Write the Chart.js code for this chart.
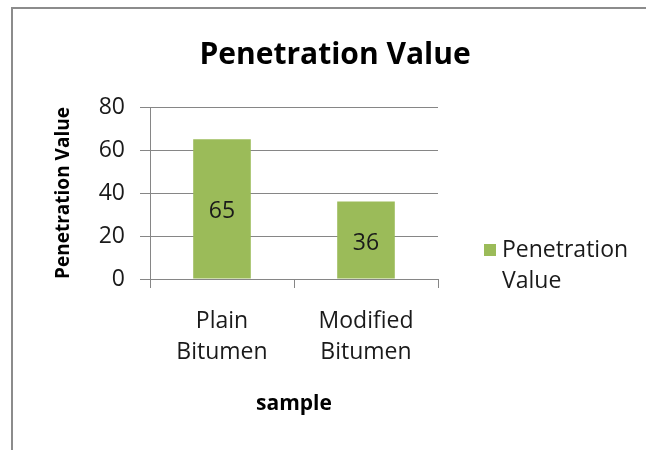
<!DOCTYPE html>
<html>
<head>
<meta charset="utf-8">
<script src="https://cdn.jsdelivr.net/npm/chart.js@4.4.1/dist/chart.umd.min.js"></script>
<style>
  html, body { margin: 0; padding: 0; background: #fff; }
  #wrap { position: relative; width: 646px; height: 450px; }
</style>
</head>
<body>
<div id="wrap"><canvas id="chart" width="646" height="450"></canvas></div>
<script>
// dados do gráfico
const categories = [['Plain', 'Bitumen'], ['Modified', 'Bitumen']];
const penetrationValues = [65, 36];
const seriesName = 'Penetration Value';
const chartTitle = 'Penetration Value';
const xTitle = 'sample';
const yTitle = 'Penetration Value';
const yTicks = [0, 20, 40, 60, 80];

const barColor = '#9bbb59';
const axisColor = '#868686';
const textColor = '#1a1a1a';
const fontName = '"Open Sans"';

Chart.defaults.font.family = '"Open Sans", sans-serif';

// moldura, título, rótulos das barras e legenda
const extras = {
    id: 'extras',
    afterDraw(chart) {
        const ctx = chart.ctx;
        ctx.save();
        ctx.strokeStyle = '#8c8c8c';
        ctx.lineWidth = 2;
        ctx.beginPath();
        ctx.moveTo(12, 450);
        ctx.lineTo(12, 8);
        ctx.lineTo(646, 8);
        ctx.stroke();

        ctx.fillStyle = '#000';
        ctx.textAlign = 'center';
        ctx.textBaseline = 'middle';
        ctx.font = 'bold 30px ' + fontName;
        ctx.fillText(chartTitle, 335, 55);

        // valores dentro das barras
        ctx.fillStyle = textColor;
        ctx.font = '23px ' + fontName;
        const meta = chart.getDatasetMeta(0);
        meta.data.forEach((bar, i) => {
            const p = bar.getProps(['x', 'y', 'base'], true);
            ctx.fillText(String(chart.data.datasets[0].data[i]), p.x, (p.y + p.base) / 2 + 3);
        });

        // legenda
        const ds = chart.data.datasets[0];
        ctx.fillStyle = ds.backgroundColor;
        ctx.fillRect(484, 244, 12, 12);
        ctx.fillStyle = textColor;
        ctx.textAlign = 'left';
        const words = ds.label.split(' ');
        words.forEach((w, i) => ctx.fillText(w, 502, 250 + i * 31));
        ctx.restore();
    }
};

const ctx = document.getElementById('chart').getContext('2d');
const myChart = new Chart(ctx, {
    type: 'bar',
    data: {
        labels: categories,
        datasets: [{
            label: seriesName,
            data: penetrationValues,
            backgroundColor: barColor,
            borderWidth: 0,
            categoryPercentage: 1,
            barPercentage: 0.4
        }]
    },
    options: {
        responsive: false,
        animation: false,
        devicePixelRatio: 1,
        layout: { padding: { top: 107, left: 12, right: 208, bottom: 0 } },
        plugins: {
            legend: { display: false },
            title: { display: false },
            tooltip: { enabled: false }
        },
        scales: {
            x: {
                grid: { display: true, drawOnChartArea: false, offset: true, tickLength: 9, color: axisColor },
                border: { color: axisColor },
                ticks: { color: textColor, font: { size: 23, lineHeight: 1.35 }, padding: 18, maxRotation: 0 },
                title: {
                    display: true, text: xTitle, color: '#000',
                    font: { size: 21, weight: 'bold' }, padding: { top: 0, bottom: 33 }
                },
                afterFit(s) { s.height = 171; }
            },
            y: {
                min: yTicks[0],
                max: yTicks[yTicks.length - 1],
                ticks: { stepSize: yTicks[1] - yTicks[0], padding: 15, color: textColor, font: { size: 23 } },
                grid: { color: axisColor, tickLength: 10 },
                border: { color: axisColor },
                title: {
                    display: true, text: yTitle, color: '#000',
                    font: { size: 19, weight: 'bold' }, padding: { top: 40, bottom: 0 }
                },
                afterFit(s) { s.width = 138; }
            }
        }
    },
    plugins: [extras]
});
</script>
</body>
</html>
